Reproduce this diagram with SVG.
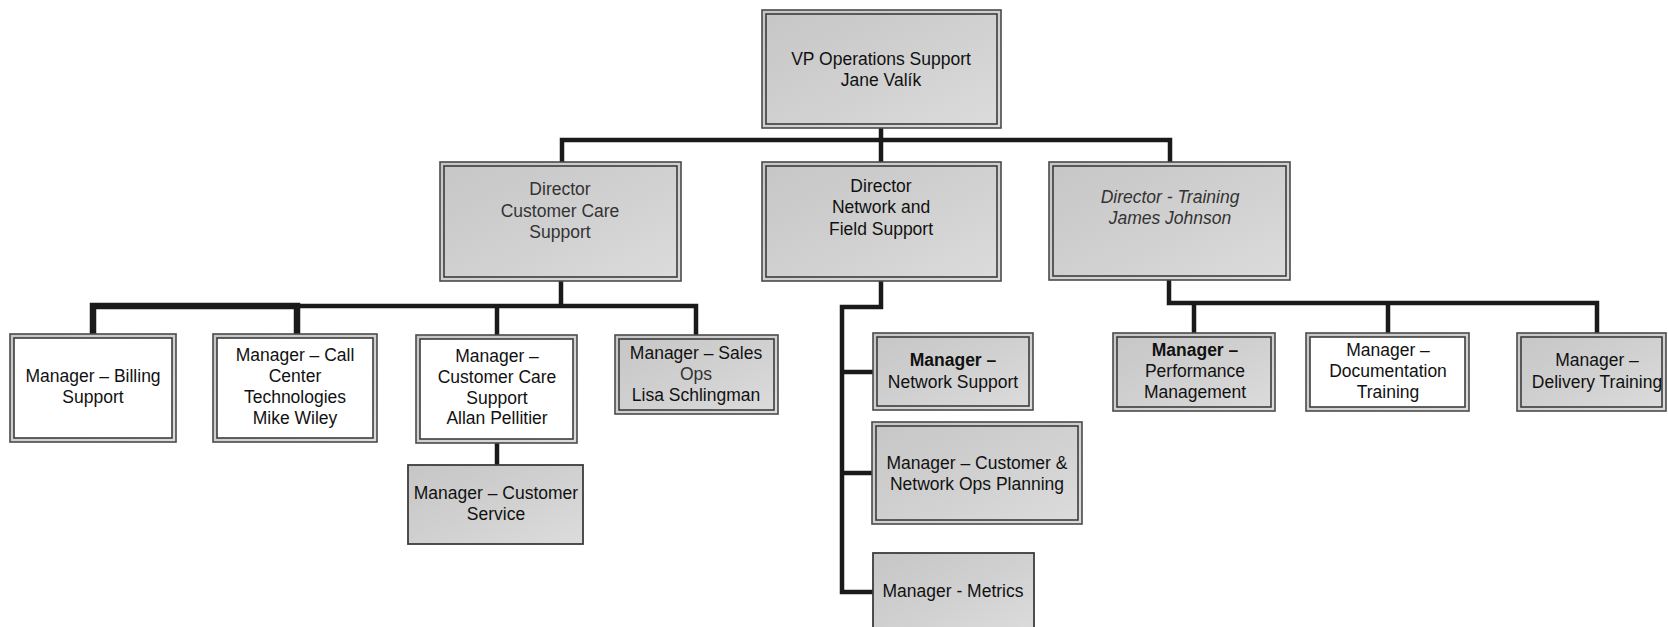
<svg xmlns="http://www.w3.org/2000/svg" width="1668" height="627" viewBox="0 0 1668 627">
<defs>
<linearGradient id="gray" x1="0" y1="0" x2="1" y2="1">
<stop offset="0" stop-color="#c6c6c6"/>
<stop offset="0.5" stop-color="#d0d0d0"/>
<stop offset="1" stop-color="#dcdcdc"/>
</linearGradient>
<style>
.outer{fill:url(#gray);stroke:#4a4a4a;stroke-width:1.6}
.inner{fill:none;stroke:#3c3c3c;stroke-width:1.6}
.innerw{fill:#ffffff;stroke:#3c3c3c;stroke-width:1.6}
.single{fill:url(#gray);stroke:#3c3c3c;stroke-width:1.8}
text{font-family:"Liberation Sans",Arial,sans-serif;font-size:17.5px;text-anchor:middle;fill:#111}
.dir{fill:#333}
.it{font-style:italic;fill:#333}
.b{font-weight:bold}
.conn{fill:none;stroke:#1a1a1a;stroke-width:4.5;stroke-linejoin:miter;stroke-linecap:square}
.heavy{stroke-width:6.5}
</style>
</defs>
<rect width="1668" height="627" fill="#ffffff"/>

<g id="connectors">
<path class="conn" d="M881,128 V140 M562,140 H1170 M562,140 V162 M881,140 V162 M1170,140 V162"/>
<path class="conn" d="M561,280 V306 M297,306 H696 M497,306 V334 M696,306 V334"/>
<path class="conn heavy" d="M93,334 V306 H297 V334"/>
<path class="conn" d="M497,443 V465"/>
<path class="conn" d="M881,280 V307 H842 V592 H873 M842,372 H873 M842,473 H872"/>
<path class="conn" d="M1169,280 V303 H1597 V333 M1194,303 V333 M1388,303 V333"/>
</g>

<g id="vp">
<rect class="outer" x="762" y="10" width="239" height="118"/>
<rect class="inner" x="766" y="14" width="231" height="110"/>
<text x="881" y="65">VP Operations Support</text>
<text x="881" y="86">Jane Valík</text>
</g>

<g id="dir-customer-care">
<rect class="outer" x="440" y="162" width="241" height="119"/>
<rect class="inner" x="444" y="166" width="233" height="111"/>
<text class="dir" x="560" y="195">Director</text>
<text class="dir" x="560" y="217">Customer Care</text>
<text class="dir" x="560" y="238">Support</text>
</g>

<g id="dir-network">
<rect class="outer" x="762" y="162" width="239" height="119"/>
<rect class="inner" x="766" y="166" width="231" height="111"/>
<text x="881" y="192">Director</text>
<text x="881" y="213">Network and</text>
<text x="881" y="235">Field Support</text>
</g>

<g id="dir-training">
<rect class="outer" x="1049" y="162" width="241" height="118"/>
<rect class="inner" x="1053" y="166" width="233" height="110"/>
<text class="it" x="1170" y="203">Director - Training</text>
<text class="it" x="1170" y="224">James Johnson</text>
</g>

<g id="mgr-billing">
<rect class="outer" x="10" y="334" width="166" height="108"/>
<rect class="innerw" x="14" y="338" width="158" height="100"/>
<text x="93" y="382">Manager – Billing</text>
<text x="93" y="403">Support</text>
</g>

<g id="mgr-call-center">
<rect class="outer" x="213" y="334" width="164" height="108"/>
<rect class="innerw" x="217" y="338" width="156" height="100"/>
<text x="295" y="361">Manager – Call</text>
<text x="295" y="382">Center</text>
<text x="295" y="403">Technologies</text>
<text x="295" y="424">Mike Wiley</text>
</g>

<g id="mgr-cc-support">
<rect class="outer" x="416" y="335" width="161" height="108"/>
<rect class="innerw" x="420" y="339" width="153" height="100"/>
<text x="497" y="362">Manager –</text>
<text x="497" y="383">Customer Care</text>
<text x="497" y="404">Support</text>
<text x="497" y="424">Allan Pellitier</text>
</g>

<g id="mgr-sales-ops">
<rect class="outer" x="615" y="335" width="163" height="79"/>
<rect class="inner" x="619" y="339" width="155" height="71"/>
<text x="696" y="359">Manager – Sales</text>
<text class="dir" x="696" y="380">Ops</text>
<text x="696" y="401">Lisa Schlingman</text>
</g>

<g id="mgr-customer-service">
<rect class="single" x="408" y="465" width="175" height="79"/>
<text x="496" y="499">Manager – Customer</text>
<text x="496" y="520">Service</text>
</g>

<g id="mgr-network-support">
<rect class="outer" x="873" y="333" width="160" height="77"/>
<rect class="inner" x="877" y="337" width="152" height="69"/>
<text class="b" x="953" y="366">Manager –</text>
<text x="953" y="388">Network Support</text>
</g>

<g id="mgr-ops-planning">
<rect class="outer" x="872" y="422" width="210" height="102"/>
<rect class="inner" x="876" y="426" width="202" height="94"/>
<text x="977" y="469">Manager – Customer &amp;</text>
<text x="977" y="490">Network Ops Planning</text>
</g>

<g id="mgr-metrics">
<rect class="single" x="873" y="553" width="161" height="80"/>
<text x="953" y="597">Manager - Metrics</text>
</g>

<g id="mgr-performance">
<rect class="outer" x="1113" y="333" width="162" height="78"/>
<rect class="inner" x="1117" y="337" width="154" height="70"/>
<text class="b" x="1195" y="356">Manager –</text>
<text x="1195" y="377">Performance</text>
<text x="1195" y="398">Management</text>
</g>

<g id="mgr-documentation">
<rect class="outer" x="1306" y="333" width="163" height="78"/>
<rect class="innerw" x="1310" y="337" width="155" height="70"/>
<text x="1388" y="356">Manager –</text>
<text x="1388" y="377">Documentation</text>
<text x="1388" y="398">Training</text>
</g>

<g id="mgr-delivery">
<rect class="outer" x="1517" y="333" width="149" height="78"/>
<rect class="inner" x="1521" y="337" width="141" height="70"/>
<text x="1597" y="366">Manager –</text>
<text x="1597" y="388">Delivery Training</text>
</g>
</svg>
